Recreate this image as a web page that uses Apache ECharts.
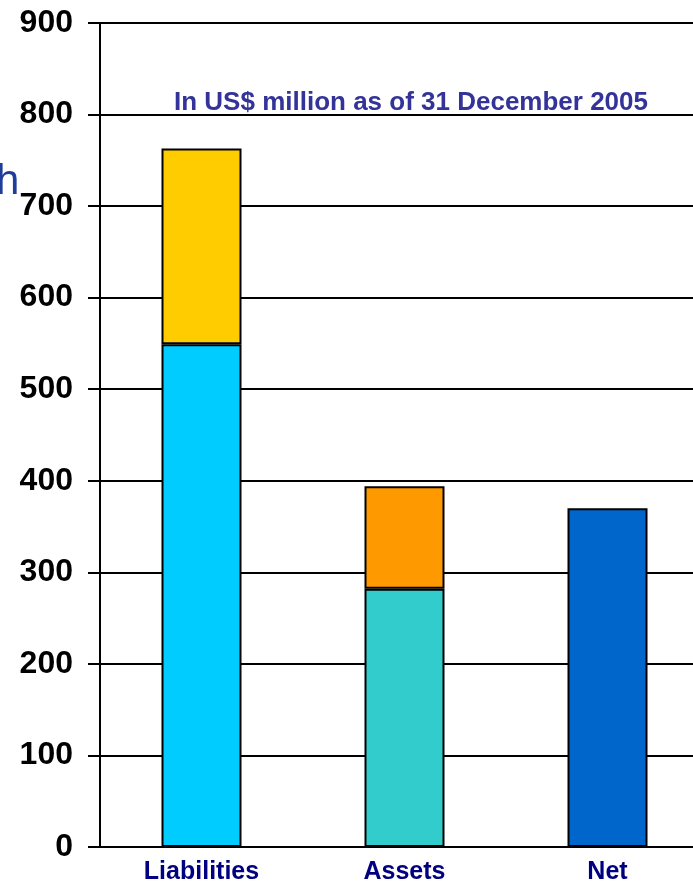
<!DOCTYPE html>
<html>
<head>
<meta charset="utf-8">
<script src="https://cdn.jsdelivr.net/npm/echarts@6/dist/echarts.min.js"></script>
<style>
  html, body { margin: 0; padding: 0; background: #fff; overflow: hidden; }
  #chart { width: 709px; height: 883px; }
</style>
</head>
<body>
<div id="chart"></div>
<script>
var categories = ['Liabilities', 'Assets', 'Net'];
var lowerValues = [549, 282, 370];
var upperValues = [214, 112, null];
var lowerColors = ['#00CCFF', '#33CCCC', '#0066CC'];
var upperColors = ['#FFCC00', '#FF9900', '#FFCC00'];
var yTicks = [0, 100, 200, 300, 400, 500, 600, 700, 800, 900];

var chart = echarts.init(document.getElementById('chart'));

function toItems(values, colors) {
    return values.map(function (v, i) {
        return v == null ? '-' : { value: v, itemStyle: { color: colors[i] } };
    });
}

chart.setOption({
    animation: false,
    textStyle: { fontFamily: 'Liberation Sans, Arial, sans-serif' },
    title: {
        text: 'In US$ million as of 31 December 2005',
        left: 406,
        top: 85,
        textAlign: 'center',
        textStyle: { color: '#333399', fontSize: 26, fontWeight: 'bold' }
    },
    graphic: [{
        type: 'text',
        left: -4,
        top: 161,
        style: { text: 'h', fill: '#1F3D99', fontSize: 42, fontFamily: 'Liberation Sans, Arial, sans-serif' }
    }],
    grid: { left: 100, right: 0, top: 23, bottom: 36, outerBoundsMode: 'none' },
    xAxis: {
        type: 'category',
        data: categories,
        axisLine: { lineStyle: { color: '#000', width: 2 } },
        axisTick: { show: false },
        axisLabel: { color: '#000080', fontSize: 25, fontWeight: 'bold', margin: 13 }
    },
    yAxis: {
        type: 'value',
        min: yTicks[0],
        max: yTicks[yTicks.length - 1],
        interval: 100,
        axisLine: { show: true, lineStyle: { color: '#000', width: 2 } },
        axisTick: { show: true, length: 12, lineStyle: { color: '#000', width: 2 } },
        axisLabel: { color: '#000', fontSize: 32, fontWeight: 'bold', margin: 27 },
        splitLine: { lineStyle: { color: '#000', width: 2 } }
    },
    series: [{
        name: 'lower',
        type: 'bar',
        stack: 'total',
        barWidth: 80,
        itemStyle: { borderColor: '#000', borderWidth: 2 },
        data: toItems(lowerValues, lowerColors)
    }, {
        name: 'upper',
        type: 'bar',
        stack: 'total',
        barWidth: 80,
        itemStyle: { borderColor: '#000', borderWidth: 2 },
        data: toItems(upperValues, upperColors)
    }]
});
</script>
</body>
</html>
